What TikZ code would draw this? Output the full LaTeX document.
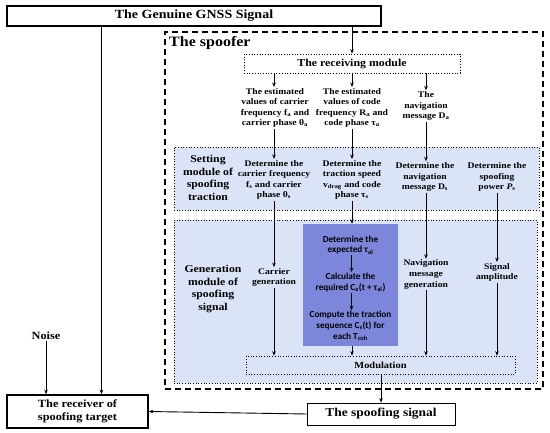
\documentclass[tikz,border=0pt]{standalone}
\usepackage{fontspec}
\setmainfont[FakeStretch=1.12]{Liberation Serif}
\newfontfamily\purplefont{Carlito}
\usetikzlibrary{arrows.meta,calc}
\definecolor{bgblue}{RGB}{219,228,246}
\definecolor{pbox}{RGB}{124,134,218}
\tikzset{
  arr/.style={line width=0.9pt,-{Stealth[length=4.5pt,width=3.6pt]}},
  txt/.style={align=center,inner sep=1pt,font=\bfseries\fontsize{8.6}{10.6}\selectfont},
  big/.style={align=center,inner sep=1pt,font=\bfseries\fontsize{10.5}{12.4}\selectfont},
  ptxt/.style={align=center,inner sep=1pt,font=\purplefont\bfseries\fontsize{9.2}{10.6}\selectfont},
  solidbox/.style={draw,line width=1.1pt,inner sep=0pt,align=center},
  dotbox/.style={draw,dotted,line width=0.7pt,inner sep=0pt},
}
\begin{document}
\begin{tikzpicture}[x=1pt,y=-1pt]
\useasboundingbox (0,0) rectangle (550,433);
% containers
\node[draw,dashed,line width=1.3pt,dash pattern=on 6pt off 4pt,minimum width=378pt,minimum height=357pt,inner sep=0pt] (spoofer) at (354,210.5) {};
\node[dotbox,fill=bgblue,minimum width=365pt,minimum height=63pt] (setbg) at (356.5,178.5) {};
\node[dotbox,fill=bgblue,minimum width=363pt,minimum height=163pt] (genbg) at (355.5,301.5) {};
\node[fill=pbox,inner sep=0pt,minimum width=95pt,minimum height=122pt] (pb) at (350.5,285) {};
% top
\node[solidbox,minimum width=374pt,minimum height=20pt,font=\bfseries\fontsize{12.5}{14}\selectfont] (gnss) at (194,16) {The Genuine GNSS Signal};
\node[anchor=west,inner sep=0pt,font=\bfseries\fontsize{14.3}{16}\selectfont] (title) at (169,43) {The spoofer};
\node[dotbox,minimum width=216pt,minimum height=19pt,font=\bfseries\fontsize{10.6}{12}\selectfont] (rm) at (352,63.5) {The receiving module};
% estimated values
\node[txt] (t1) at (275,108) {The estimated\\values of carrier\\frequency f\textsubscript{a} and\\carrier phase θ\textsubscript{a}};
\node[txt] (t2) at (352,108) {The estimated\\values of code\\frequency R\textsubscript{a} and\\code phase τ\textsubscript{a}};
\node[txt] (t3) at (426,106) {The\\navigation\\message D\textsubscript{a}};
% setting module
\node[big] (setl) at (208,178) {Setting\\module of\\spoofing\\traction};
\node[txt] (s1) at (274,180) {Determine the\\carrier frequency\\f\textsubscript{s} and carrier\\phase θ\textsubscript{s}};
\node[txt] (s2) at (352,180) {Determine the\\traction speed\\v\textsubscript{drag} and code\\phase τ\textsubscript{s}};
\node[txt] (s3) at (425,177) {Determine the\\navigation\\message D\textsubscript{s}};
\node[txt] (s4) at (497,177) {Determine the\\spoofing\\power \textit{P}\textsubscript{s}};
% generation module
\node[big] (genl) at (213,289) {Generation\\module of\\spoofing\\signal};
\node[txt] (g1) at (274,277.5) {Carrier\\generation};
\node[ptxt] (p1) at (350.5,245) {Determine the\\expected τ\textsubscript{al}};
\node[ptxt] (p2) at (350.5,282.5) {Calculate the\\required C\textsubscript{a}(t + τ\textsubscript{al})};
\node[ptxt] (p3) at (350.5,326) {Compute the traction\\sequence C\textsubscript{s}(t) for\\each T\textsubscript{coh}};
\node[txt] (g3) at (426,274.5) {Navigation\\message\\generation};
\node[txt] (g4) at (497,272.5) {Signal\\amplitude};
\node[dotbox,minimum width=269pt,minimum height=18pt,font=\bfseries\fontsize{9.3}{11}\selectfont] (mod) at (380.5,365) {Modulation};
% outside
\node[solidbox,line width=0.9pt,minimum width=148pt,minimum height=22pt,font=\bfseries\fontsize{12}{13}\selectfont] (sig) at (381,414) {The spoofing signal};
\node[solidbox,line width=1.6pt,minimum width=141pt,minimum height=33pt,font=\bfseries\fontsize{11}{13}\selectfont] (recv) at (77.5,411.5) {The receiver of\\spoofing target};
\node[inner sep=1pt,font=\bfseries\fontsize{11}{13}\selectfont] (noise) at (46,336) {Noise};
% connectors
\draw[arr] (gnss.south -| rm.north) -- (rm.north);
\draw[arr] ([xshift=95pt]gnss.south west) -- ([xshift=95pt]gnss.south west |- recv.north);
\draw[arr] (noise.south) -- (noise.south |- recv.north);
\draw[arr] (sig.west) -- (recv.east);
\draw[arr] (mod.south -| sig.north) -- (sig.north);
% column 1
\draw[arr] (rm.south -| s1.north) -- (s1.north |- t1.north);
\draw[arr] (t1.south -| s1.north) -- (s1.north);
\draw[arr] (s1.south) -- (g1.north);
\draw[arr] (g1.south) -- (g1.south |- mod.north);
% column 2
\draw[arr] (rm.south -| t2.north) -- (t2.north);
\draw[arr] (t2.south) -- (s2.north);
\draw[arr] (s2.south) -- (s2.south |- pb.north);
\draw[arr] ([xshift=1pt]p1.south) -- ([xshift=1pt]p2.north);
\draw[arr] ([xshift=1pt]p2.south) -- ([xshift=1pt]p3.north);
\draw[arr] (pb.south -| s2.south) -- (mod.north -| s2.south);
% column 3
\draw[arr] (rm.south -| t3.north) -- (t3.north);
\draw[arr] (t3.south) -- (t3.south |- s3.north);
\draw[arr] (s3.south -| g3.north) -- (g3.north);
\draw[arr] (g3.south) -- (g3.south |- mod.north);
% column 4
\draw[arr] (s4.south) -- (g4.north);
\draw[arr] (g4.south) -- (g4.south |- mod.north);
\end{tikzpicture}
\end{document}
